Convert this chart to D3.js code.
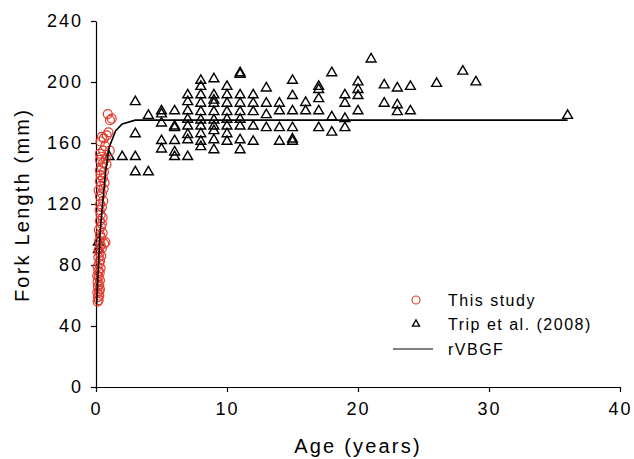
<!DOCTYPE html>
<html>
<head>
<meta charset="utf-8">
<script src="https://cdn.jsdelivr.net/npm/d3@7"></script>
<style>
  body { margin: 0; background: #fff; }
  svg { font-family: Arial, "Liberation Sans", sans-serif; }
  .axis path, .axis line { stroke: #000; stroke-width: 1.2; }
  .axis text { font-size: 18px; letter-spacing: 2px; fill: #000; }
  .title { font-size: 20px; letter-spacing: 2.2px; fill: #000; }
  .legend text { font-size: 16px; letter-spacing: 1.5px; fill: #000; }
</style>
</head>
<body>
<div id="wrapper"></div>
<script>
// this study: [age, fork length]
const thisStudy = [
  [0.12,56],[0.2,57],[0.15,59],[0.25,60],[0.1,62],[0.22,63],[0.3,64],[0.15,66],
  [0.25,67],[0.12,69],[0.3,70],[0.2,72],[0.1,73],[0.28,75],[0.18,76],[0.35,78],
  [0.12,79],[0.25,81],[0.32,83],[0.18,85],[0.4,86],[0.28,88],[0.2,90],[0.45,91],
  [0.35,93],[0.62,94],[0.72,95],[0.25,96],[0.4,98],[0.3,100],[0.5,101],[0.22,103],
  [0.38,105],[0.45,107],[0.3,109],[0.5,111],[0.35,113],[0.28,116],[0.45,118],
  [0.32,120],[0.55,122],[0.3,125],[0.45,127],[0.2,129],[0.58,130],[0.4,132],
  [0.3,135],[0.52,137],[0.35,139],[0.3,142],[0.45,144],[0.55,147],[0.3,149],
  [0.42,151],[0.3,153],[0.55,155],[0.7,158],[0.35,161],[0.45,164],[0.82,165],
  [0.95,167],[0.6,163],[1.07,175],[0.9,179],[1.2,176],[0.75,150],[0.6,141],
  [0.65,134],[1.05,155],[0.8,146]
];

// Trip et al. (2008): [age, fork length]
const tripData = [
  [0.18,95],[0.18,90],
  [1,151],
  [2,151],
  [3,187],[3,166],[3,151],[3,141],
  [4,178],[4,141],
  [5,181],[5,179],[5,173],[5,161.5],[5,156],
  [6,181],[6,171],[6,170],[6,161.5],[6,154],[6,151],
  [7,191.5],[7,187],[7,181],[7,175.5],[7,171],[7,165.5],[7,162],[7,151],
  [8,201],[8,197],[8,191.5],[8,186],[8,180.5],[8,175],[8,171],[8,166],[8,161],[8,157.5],
  [9,202],[9,191.5],[9,188],[9,186],[9,180.5],[9,175],[9,171],[9,168],[9,162],[9,155.5],
  [10,197],[10,191.5],[10,186],[10,180.5],[10,175.5],[10,171],[10,166],[10,161],
  [11,206],[11,205],[11,191.5],[11,186],[11,180.5],[11,175.5],[11,171],[11,162],[11,155.5],
  [12,191.5],[12,186],[12,180.5],[12,171],[12,161],
  [13,196],[13,186],[13,178.5],[13,170],
  [14,186],[14,181],[14,170],[14,161],
  [15,201],[15,191],[15,181],[15,170],[15,162.5],[15,161],
  [16,186.5],[16,181],
  [17,197],[17,195],[17,189],[17,181],[17,170],
  [18,206],[18,177],[18,167],
  [19,191.5],[19,186],[19,176],[19,170],
  [20,200],[20,195],[20,191],[20,181],
  [21,215],
  [22,198],[22,186],
  [23,196],[23,185],[23,180.5],
  [24,197],[24,181],
  [26,199],
  [28,207],
  [29,200],
  [36,178]
];

// rVBGF curve
const rvbgf = [
  [0.05,54],[0.3,100],[0.5,120],[0.75,142],[1.0,157],[1.5,168],[2,172.5],[3,175],[36,175]
];

const xTicks = [0, 10, 20, 30, 40];
const yTicks = [0, 40, 80, 120, 160, 200, 240];

const width = 634, height = 459;

const svg = d3.select("#wrapper").append("svg")
  .attr("width", width)
  .attr("height", height);

const x = d3.scaleLinear().domain([0, 40]).range([96, 620]);
const y = d3.scaleLinear().domain([0, 240]).range([387, 21]);

// axes
svg.append("g")
  .attr("class", "axis")
  .attr("transform", `translate(0,${y(0)})`)
  .call(d3.axisBottom(x).tickValues(xTicks).tickSize(5).tickSizeOuter(0).tickPadding(10));

svg.append("g")
  .attr("class", "axis")
  .attr("transform", `translate(${x(0)},0)`)
  .call(d3.axisLeft(y).tickValues(yTicks).tickSize(5).tickSizeOuter(0).tickPadding(8));

svg.selectAll(".axis text").attr("font-family", null);

// titles
svg.append("text")
  .attr("class", "title")
  .attr("x", 358)
  .attr("y", 453)
  .attr("text-anchor", "middle")
  .text("Age (years)");

svg.append("text")
  .attr("class", "title")
  .attr("transform", "translate(29,205) rotate(-90)")
  .attr("text-anchor", "middle")
  .text("Fork Length (mm)");

const triangle = d3.symbol().type(d3.symbolTriangle);

// Trip et al. triangles
svg.append("g").selectAll("path")
  .data(tripData)
  .join("path")
  .attr("transform", d => `translate(${x(d[0])},${y(d[1])})`)
  .attr("d", triangle.size(42)())
  .attr("fill", "none")
  .attr("stroke", "#000")
  .attr("stroke-width", 1.4);

// this study circles
svg.append("g").selectAll("circle")
  .data(thisStudy)
  .join("circle")
  .attr("cx", d => x(d[0]))
  .attr("cy", d => y(d[1]))
  .attr("r", 4.5)
  .attr("fill", "none")
  .attr("stroke", "#e0392b")
  .attr("stroke-width", 1.2);

// growth curve
const line = d3.line().x(d => x(d[0])).y(d => y(d[1]));
svg.append("path")
  .attr("d", line(rvbgf))
  .attr("fill", "none")
  .attr("stroke", "#000")
  .attr("stroke-width", 1.6);

// legend
const legend = svg.append("g").attr("class", "legend");
legend.append("circle")
  .attr("cx", 416).attr("cy", 300).attr("r", 4)
  .attr("fill", "none").attr("stroke", "#e0392b").attr("stroke-width", 1.1);
legend.append("path")
  .attr("transform", "translate(416,324)")
  .attr("d", triangle.size(22)())
  .attr("fill", "none").attr("stroke", "#000").attr("stroke-width", 1.3);
legend.append("line")
  .attr("x1", 393).attr("x2", 433).attr("y1", 349).attr("y2", 349)
  .attr("stroke", "#000").attr("stroke-width", 1.2);

const legendLabels = ["This study", "Trip et al. (2008)", "rVBGF"];
legend.selectAll("text")
  .data(legendLabels)
  .join("text")
  .attr("x", 448)
  .attr("y", (d, i) => 300 + i * 24.5)
  .attr("dy", "0.36em")
  .text(d => d);
</script>
</body>
</html>
